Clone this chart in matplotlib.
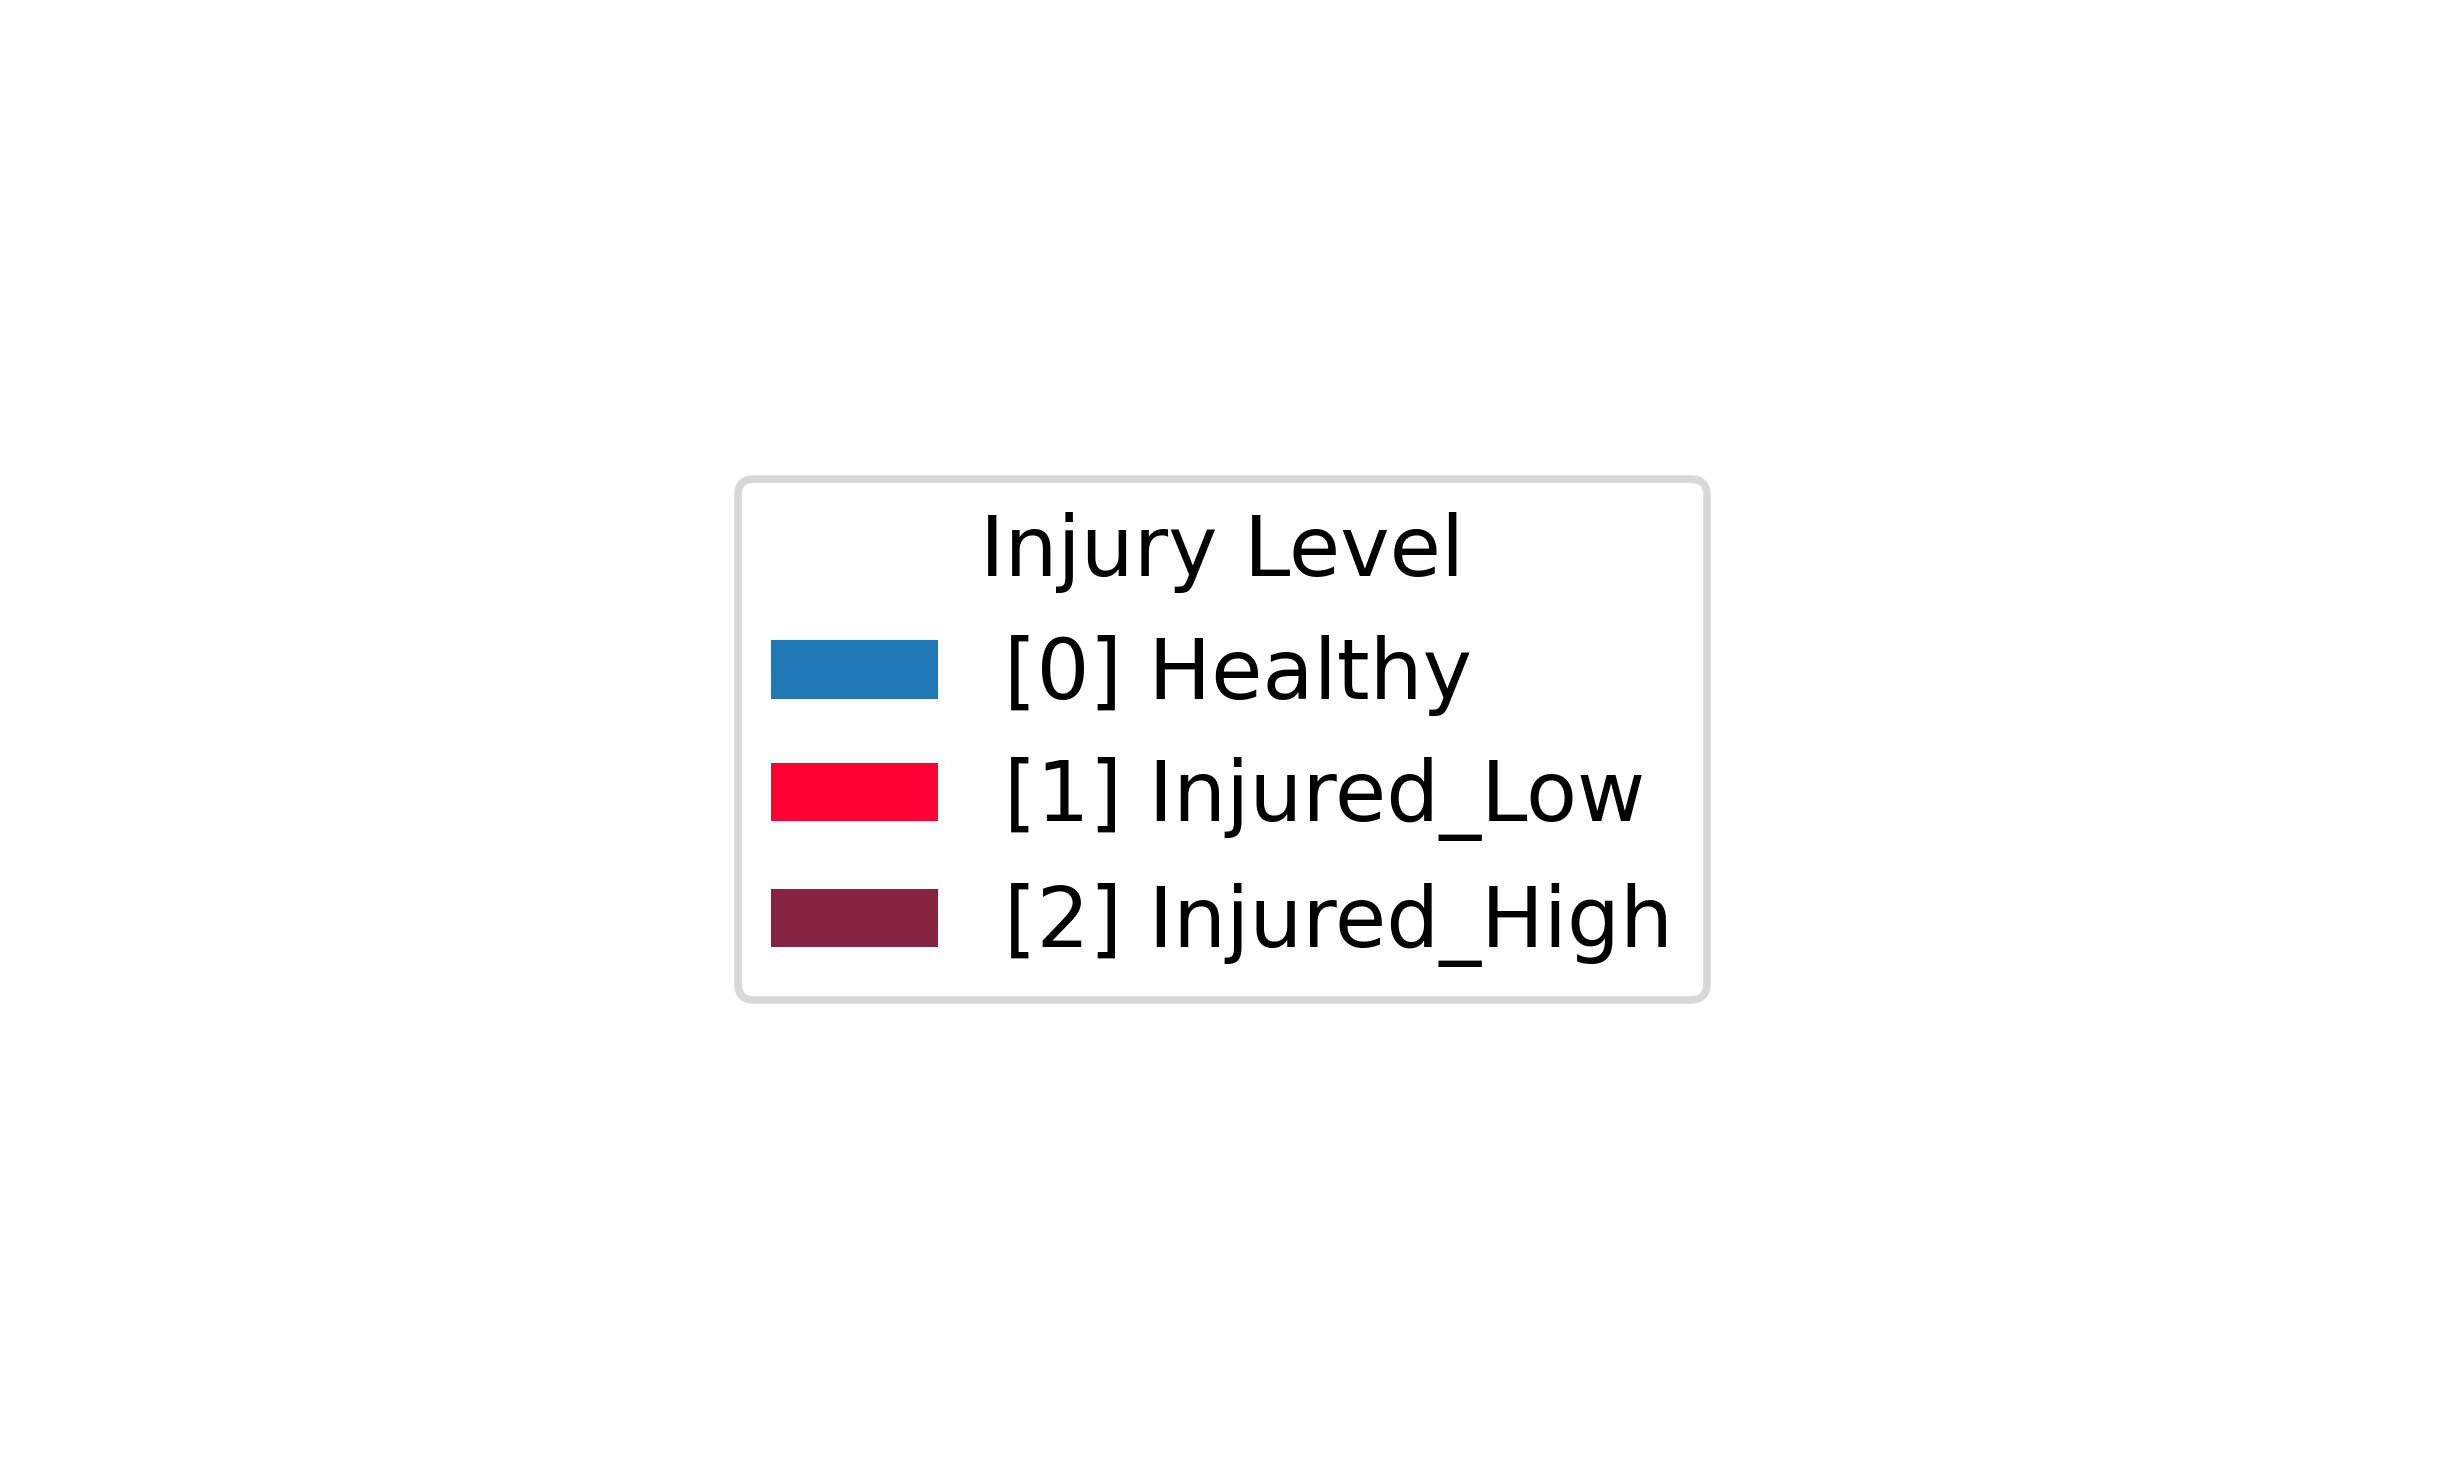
import matplotlib
matplotlib.use("Agg")
import matplotlib.pyplot as plt
from matplotlib.patches import Patch

# Legend content
title = "Injury Level"
codes = [0, 1, 2]
levels = ["Healthy", "Injured_Low", "Injured_High"]
colors = ["#1f77b4", "#ff0033", "#852441"]


def main():
    fig = plt.figure(figsize=(24.44, 14.79), dpi=100)

    handles = [Patch(facecolor=c, label=f"[{k}] {name}")
               for k, name, c in zip(codes, levels, colors)]
    leg = fig.legend(handles=handles, title=title, loc="center",
                     fontsize=60, title_fontsize=60,
                     frameon=True, fancybox=True, framealpha=1.0)
    leg.get_frame().set_edgecolor("#d8d8d8")
    leg.get_frame().set_linewidth(5.5)

    fig.savefig("out.png", dpi=100)


if __name__ == "__main__":
    main()
